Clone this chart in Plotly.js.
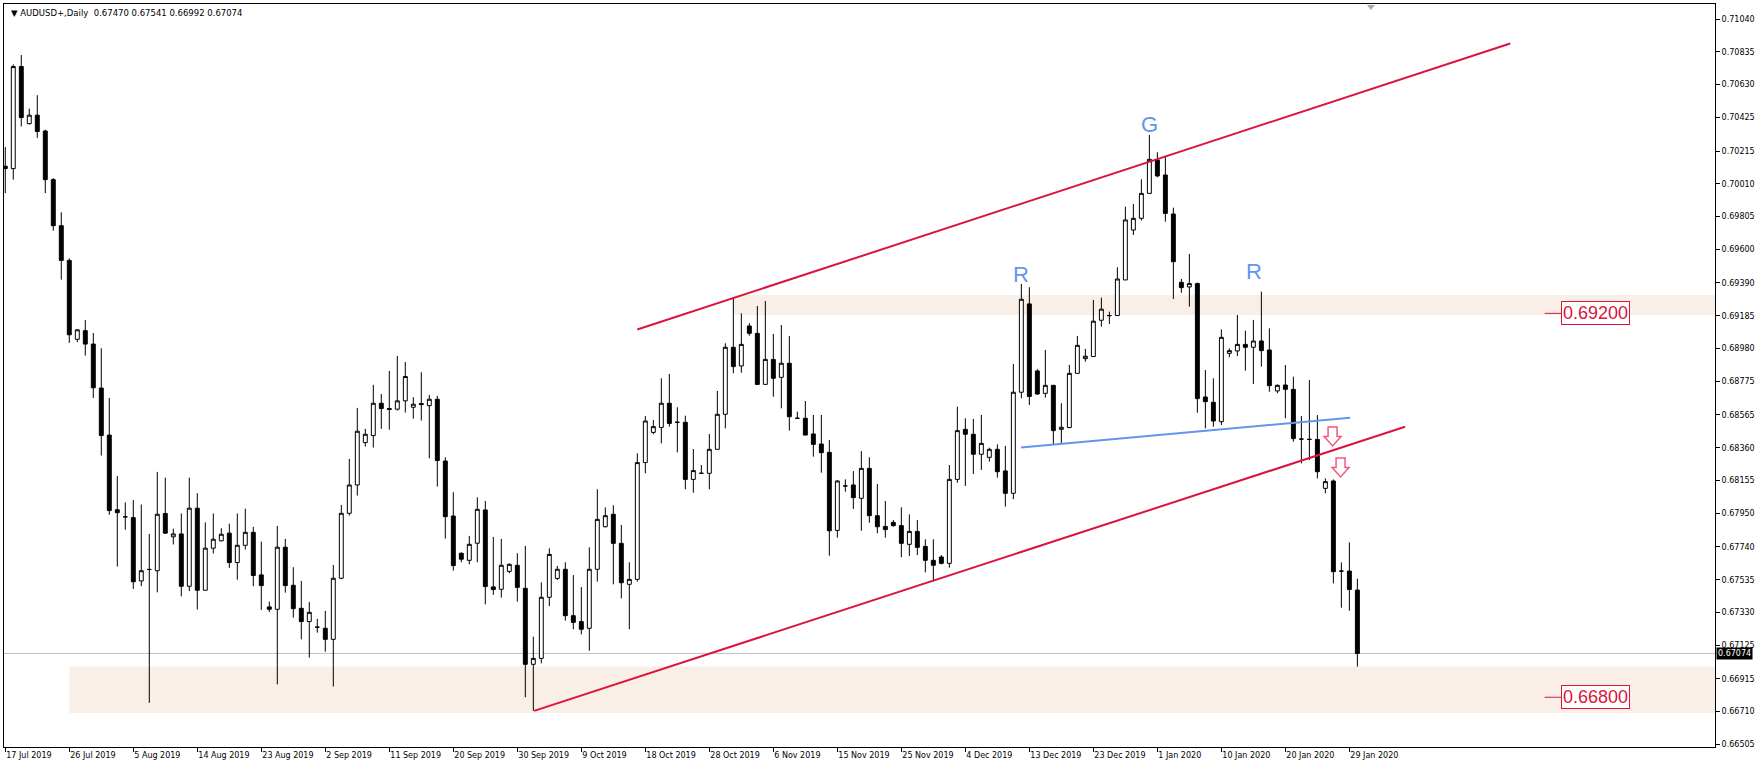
<!DOCTYPE html>
<html><head><meta charset="utf-8">
<script src="https://cdn.plot.ly/plotly-3.0.1.min.js"></script>
<style>html,body{margin:0;padding:0;background:#fff;overflow:hidden}#chart{width:1763px;height:770px}</style>
</head><body><div id="chart"></div>
<script>
// ---- data (bar index = trading-day position, Sunday bars included) ----
const opens = [0.70120,0.70105,0.70743,0.70386,0.70439,0.70340,0.70036,0.69748,0.69531,0.69038,
0.69092,0.69008,0.68733,0.68439,0.67972,0.67928,0.67923,0.67527,0.67599,0.67591,
0.67949,0.67803,0.67821,0.67494,0.67982,0.67469,0.67732,0.67778,0.67826,0.67642,
0.67750,0.67831,0.67565,0.67365,0.67350,0.67738,0.67500,0.67356,0.67273,0.67238,
0.67231,0.67162,0.67544,0.67950,0.68127,0.68392,0.68436,0.68638,0.68605,0.68601,
0.68653,0.68613,0.68636,0.68623,0.68663,0.68277,0.67933,0.67700,0.67656,0.67763,
0.67971,0.67490,0.67475,0.67587,0.67625,0.67481,0.67006,0.67043,0.67425,0.67543,
0.67600,0.67310,0.67273,0.67231,0.67600,0.67866,0.67944,0.67762,0.67506,0.67537,
0.68267,0.68456,0.68487,0.68638,0.68519,0.68519,0.68162,0.68200,0.68200,0.68350,
0.68569,0.68988,0.68871,0.69121,0.69075,0.68756,0.68912,0.68800,0.68888,0.68544,
0.68544,0.68446,0.68383,0.68331,0.67843,0.68121,0.68127,0.68044,0.68231,0.67935,
0.67868,0.67893,0.67873,0.67756,0.67837,0.67743,0.67656,0.67677,0.67637,0.68162,
0.68475,0.68444,0.68319,0.68300,0.68350,0.68215,0.68075,0.68707,0.69259,0.68840,
0.68700,0.68750,0.68475,0.68486,0.68825,0.68917,0.68930,0.69157,0.69186,0.69186,
0.69409,0.69721,0.69794,0.69950,0.70159,0.70065,0.69821,0.69394,0.69365,0.69386,
0.68677,0.68644,0.68523,0.68950,0.68965,0.69006,0.68988,0.69027,0.68971,0.68715,
0.68752,0.68725,0.68414,0.68412,0.68412,0.68106,0.68152,0.67589,0.67589,0.67470];
const highs = [0.70240,0.70756,0.70815,0.70480,0.70564,0.70348,0.70046,0.69832,0.69544,0.69102,
0.69158,0.69077,0.68982,0.68671,0.68183,0.68018,0.68033,0.68005,0.67821,0.68209,
0.68173,0.67854,0.67949,0.68173,0.68076,0.67893,0.67949,0.67857,0.67885,0.67949,
0.67979,0.67865,0.67773,0.67398,0.67871,0.67790,0.67613,0.67527,0.67396,0.67290,
0.67340,0.67627,0.68002,0.68290,0.68609,0.68478,0.68753,0.68696,0.68840,0.68934,
0.68896,0.68676,0.68832,0.68690,0.68684,0.68300,0.68082,0.67706,0.67809,0.68050,
0.68027,0.67802,0.67790,0.67637,0.67700,0.67746,0.67179,0.67518,0.67731,0.67621,
0.67644,0.67564,0.67489,0.67737,0.68100,0.67987,0.68000,0.67877,0.67644,0.68325,
0.68558,0.68533,0.68794,0.68821,0.68613,0.68560,0.68352,0.68252,0.68446,0.68715,
0.69013,0.69300,0.69200,0.69138,0.69246,0.69277,0.69071,0.69127,0.69058,0.68585,
0.68652,0.68565,0.68565,0.68408,0.68158,0.68162,0.68214,0.68339,0.68300,0.68133,
0.68027,0.67908,0.67987,0.67943,0.67908,0.67787,0.67787,0.67689,0.68252,0.68617,
0.68544,0.68540,0.68565,0.68360,0.68381,0.68371,0.68884,0.69384,0.69363,0.68851,
0.68971,0.68750,0.68638,0.68878,0.69059,0.68978,0.69284,0.69298,0.69211,0.69488,
0.69867,0.69884,0.70038,0.70315,0.70207,0.70180,0.69861,0.69415,0.69571,0.69392,
0.68846,0.68794,0.69100,0.68981,0.69190,0.69092,0.69159,0.69336,0.69106,0.68756,
0.68877,0.68804,0.68558,0.68783,0.68564,0.68168,0.68162,0.67643,0.67768,0.67541];
const lows = [0.69952,0.70036,0.70368,0.70381,0.70297,0.69952,0.69717,0.69411,0.69015,0.69020,
0.68936,0.68671,0.68311,0.67941,0.67617,0.67847,0.67477,0.67494,0.66765,0.67456,
0.67821,0.67755,0.67431,0.67464,0.67349,0.67469,0.67699,0.67775,0.67609,0.67535,
0.67724,0.67494,0.67346,0.67333,0.66881,0.67454,0.67298,0.67162,0.67048,0.67204,
0.67085,0.66867,0.67538,0.67936,0.68061,0.68367,0.68361,0.68478,0.68473,0.68592,
0.68580,0.68542,0.68530,0.68294,0.68117,0.67792,0.67592,0.67644,0.67631,0.67644,
0.67381,0.67440,0.67423,0.67575,0.67398,0.66800,0.66715,0.67012,0.67370,0.67533,
0.67279,0.67225,0.67193,0.67091,0.67523,0.67862,0.67506,0.67418,0.67225,0.67523,
0.68200,0.68444,0.68387,0.68492,0.68331,0.68100,0.68079,0.68200,0.68100,0.68350,
0.68481,0.68825,0.68829,0.69060,0.68756,0.68756,0.68679,0.68606,0.68467,0.68544,
0.68439,0.68304,0.68204,0.67685,0.67798,0.68085,0.67977,0.67841,0.67891,0.67825,
0.67798,0.67866,0.67675,0.67683,0.67689,0.67581,0.67523,0.67631,0.67610,0.68141,
0.68121,0.68196,0.68221,0.68273,0.68173,0.67992,0.68038,0.68669,0.68627,0.68690,
0.68673,0.68382,0.68382,0.68482,0.68825,0.68898,0.68930,0.69117,0.69134,0.69186,
0.69409,0.69690,0.69780,0.69950,0.70051,0.69773,0.69290,0.69329,0.69242,0.68579,
0.68481,0.68492,0.68502,0.68925,0.68933,0.68842,0.68758,0.68867,0.68710,0.68700,
0.68544,0.68398,0.68262,0.68283,0.68168,0.68075,0.67512,0.67360,0.67341,0.66992];
const closes = [0.70105,0.70743,0.70424,0.70439,0.70337,0.70036,0.69748,0.69531,0.69066,0.69097,
0.69008,0.68735,0.68436,0.67967,0.67954,0.67928,0.67522,0.67591,0.67599,0.67944,
0.67826,0.67821,0.67494,0.67982,0.67469,0.67732,0.67788,0.67819,0.67642,0.67750,
0.67831,0.67561,0.67498,0.67350,0.67738,0.67498,0.67354,0.67273,0.67331,0.67238,
0.67162,0.67544,0.67950,0.68127,0.68463,0.68444,0.68638,0.68605,0.68599,0.68653,
0.68805,0.68632,0.68630,0.68663,0.68280,0.67929,0.67623,0.67663,0.67756,0.67975,
0.67492,0.67473,0.67625,0.67631,0.67487,0.67006,0.67043,0.67425,0.67693,0.67600,
0.67310,0.67268,0.67225,0.67600,0.67912,0.67935,0.67762,0.67516,0.67537,0.68267,
0.68527,0.68492,0.68638,0.68512,0.68519,0.68162,0.68217,0.68200,0.68350,0.68569,
0.68988,0.68867,0.69006,0.69075,0.68756,0.68912,0.68794,0.68888,0.68554,0.68544,
0.68439,0.68381,0.68329,0.67841,0.68152,0.68121,0.68048,0.68231,0.67935,0.67866,
0.67848,0.67873,0.67762,0.67837,0.67737,0.67656,0.67625,0.67637,0.68162,0.68467,
0.68444,0.68319,0.68387,0.68350,0.68210,0.68075,0.68707,0.69288,0.68680,0.68696,
0.68750,0.68467,0.68488,0.68825,0.69000,0.68932,0.69151,0.69226,0.69186,0.69415,
0.69784,0.69794,0.69950,0.70163,0.70059,0.69825,0.69523,0.69361,0.69386,0.68667,
0.68648,0.68527,0.69050,0.68967,0.69006,0.68988,0.69027,0.68967,0.68748,0.68750,
0.68725,0.68417,0.68414,0.68412,0.68210,0.68148,0.67585,0.67589,0.67474,0.67074];

const dateLabels = ["17 Jul 2019","26 Jul 2019","5 Aug 2019","14 Aug 2019","23 Aug 2019","2 Sep 2019",
"11 Sep 2019","20 Sep 2019","30 Sep 2019","9 Oct 2019","18 Oct 2019","28 Oct 2019","6 Nov 2019",
"15 Nov 2019","25 Nov 2019","4 Dec 2019","13 Dec 2019","23 Dec 2019","1 Jan 2020","10 Jan 2020",
"20 Jan 2020","29 Jan 2020"];
const barsPerDateLabel = 8;
const priceTicks = [0.71040,0.70835,0.70630,0.70425,0.70215,0.70010,0.69805,0.69600,0.69390,0.69185,
0.68980,0.68775,0.68565,0.68360,0.68155,0.67950,0.67740,0.67535,0.67330,0.67125,0.66915,0.66710,0.66505];

const symbolTitle = "AUDUSD+,Daily";
const lastBar = [0.67470, 0.67541, 0.66992, 0.67074];

const channelUpperX = [79.0, 188.1],   channelUpperY = [0.69099, 0.70887];
const channelLowerX = [66.1, 174.96],  channelLowerY = [0.66715, 0.68491];
const necklineX = [126.96, 168.1],     necklineY = [0.68361, 0.68548];

const zoneStart = [91, 8];
const zoneLow  = [0.69190, 0.66702];
const zoneHigh = [0.69315, 0.66992];

const levelValues = [0.69200, 0.66800];
const levelLabelX = 194.5;

const patternText = ["R", "G", "R"];
const patternX = [127.0, 143.0, 156.06];
const patternY = [0.69443, 0.70378, 0.69464];

const arrowX = [165.9, 166.9];
const arrowY = [0.68371, 0.68177];

// ---- layout constants ----
const W = 1763, H = 770;
const M = {l: 4, r: 48, t: 4, b: 23};
const PW = W - M.l - M.r, PH = H - M.t - M.b;
const xMin = -0.16, xMax = 213.7;
const yMin = 0.66489, yMax = 0.71134;
const CRIMSON = '#DC143C', BLUE = '#6495ED';

const xs = opens.map((_, i) => i);

const trace = {
  type: 'candlestick', x: xs, open: opens, high: highs, low: lows, close: closes,
  increasing: {line: {color: '#000', width: 1}, fillcolor: '#ffffff'},
  decreasing: {line: {color: '#000', width: 1}, fillcolor: '#000000'},
  whiskerwidth: 0, hoverinfo: 'none', showlegend: false
};

const shapes = [];
zoneStart.forEach((x0, i) => shapes.push({type: 'rect', xref: 'x', yref: 'y', x0: x0, x1: xMax,
  y0: zoneLow[i], y1: zoneHigh[i], fillcolor: '#FAEFE6', line: {width: 0}, layer: 'below'}));
shapes.push({type: 'line', xref: 'paper', yref: 'y', x0: 0, x1: 1, y0: lastBar[3], y1: lastBar[3],
  line: {color: '#C0C0C0', width: 1}, layer: 'below'});
shapes.push({type: 'line', xref: 'x', yref: 'y', x0: channelUpperX[0], x1: channelUpperX[1],
  y0: channelUpperY[0], y1: channelUpperY[1], line: {color: CRIMSON, width: 2}});
shapes.push({type: 'line', xref: 'x', yref: 'y', x0: channelLowerX[0], x1: channelLowerX[1],
  y0: channelLowerY[0], y1: channelLowerY[1], line: {color: CRIMSON, width: 2}});
shapes.push({type: 'line', xref: 'x', yref: 'y', x0: necklineX[0], x1: necklineX[1],
  y0: necklineY[0], y1: necklineY[1], line: {color: BLUE, width: 2}});
levelValues.forEach(v => shapes.push({type: 'line', xref: 'x', yref: 'y', x0: levelLabelX - 2.1, x1: levelLabelX,
  y0: v, y1: v, line: {color: CRIMSON, width: 1}}));
arrowX.forEach((ax, i) => shapes.push({type: 'path', xref: 'x', yref: 'y', xsizemode: 'pixel', ysizemode: 'pixel',
  xanchor: ax, yanchor: arrowY[i],
  path: 'M -4.5 19 L 4.5 19 L 4.5 9.5 L 8.5 9.5 L 0 0 L -8.5 9.5 L -4.5 9.5 Z',
  line: {color: '#EE5A7E', width: 1.5}, fillcolor: 'rgba(255,255,255,0)'}));
shapes.push({type: 'path', xref: 'paper', yref: 'paper', xsizemode: 'pixel', ysizemode: 'pixel',
  xanchor: (1371 - M.l) / PW, yanchor: 1, path: 'M -4 -1 L 4 -1 L 0 -6 Z',
  fillcolor: '#A8A8A8', line: {width: 0}});

const annotations = [];
annotations.push({xref: 'paper', yref: 'paper', x: 5 / PW, y: 1 - 8.7 / PH, xanchor: 'left', yanchor: 'middle',
  showarrow: false, text: '\u25BC\u00a0' + symbolTitle + '\u00a0\u00a0' + lastBar.map(v => v.toFixed(5)).join(' '),
  font: {family: 'DejaVu Sans', size: 8.5, color: '#000'}});
patternText.forEach((t, i) => annotations.push({xref: 'x', yref: 'y', x: patternX[i], y: patternY[i],
  xanchor: 'center', yanchor: 'middle', showarrow: false, text: t,
  font: {family: 'Liberation Sans', size: 22, color: BLUE}}));
levelValues.forEach(v => annotations.push({xref: 'x', yref: 'y', x: levelLabelX, y: v,
  xanchor: 'left', yanchor: 'middle', showarrow: false, text: v.toFixed(5),
  font: {family: 'Liberation Sans', size: 18, color: CRIMSON},
  bgcolor: '#ffffff', bordercolor: CRIMSON, borderwidth: 1, borderpad: 1}));
annotations.push({xref: 'paper', yref: 'y', x: 1, y: lastBar[3], xanchor: 'left', yanchor: 'middle', xshift: 1,
  showarrow: false, text: lastBar[3].toFixed(5), bgcolor: '#000', borderpad: 1,
  font: {family: 'DejaVu Sans', size: 8, color: '#fff'}});

const layout = {
  width: W, height: H, margin: M, paper_bgcolor: '#fff', plot_bgcolor: '#fff',
  showlegend: false, hovermode: false, dragmode: false, boxgap: 0.3, boxgroupgap: 0.3,
  xaxis: {range: [xMin, xMax], showgrid: false, zeroline: false, showline: true, mirror: true,
    linecolor: '#000', linewidth: 1, ticks: 'outside', ticklen: 4, tickcolor: '#000',
    tickvals: dateLabels.map((_, i) => i * barsPerDateLabel), ticktext: dateLabels,
    ticklabelposition: 'outside right',
    tickfont: {family: 'DejaVu Sans', size: 8, color: '#000'}, rangeslider: {visible: false}, fixedrange: true},
  yaxis: {side: 'right', range: [yMin, yMax], showgrid: false, zeroline: false, showline: true, mirror: true,
    linecolor: '#000', linewidth: 1, ticks: 'outside', ticklen: 4, tickcolor: '#000',
    tickvals: priceTicks, ticktext: priceTicks.map(v => v.toFixed(5)),
    tickfont: {family: 'DejaVu Sans', size: 8, color: '#000'}, fixedrange: true},
  shapes: shapes, annotations: annotations
};

Plotly.newPlot('chart', [trace], layout, {staticPlot: true, displayModeBar: false});
</script></body></html>
